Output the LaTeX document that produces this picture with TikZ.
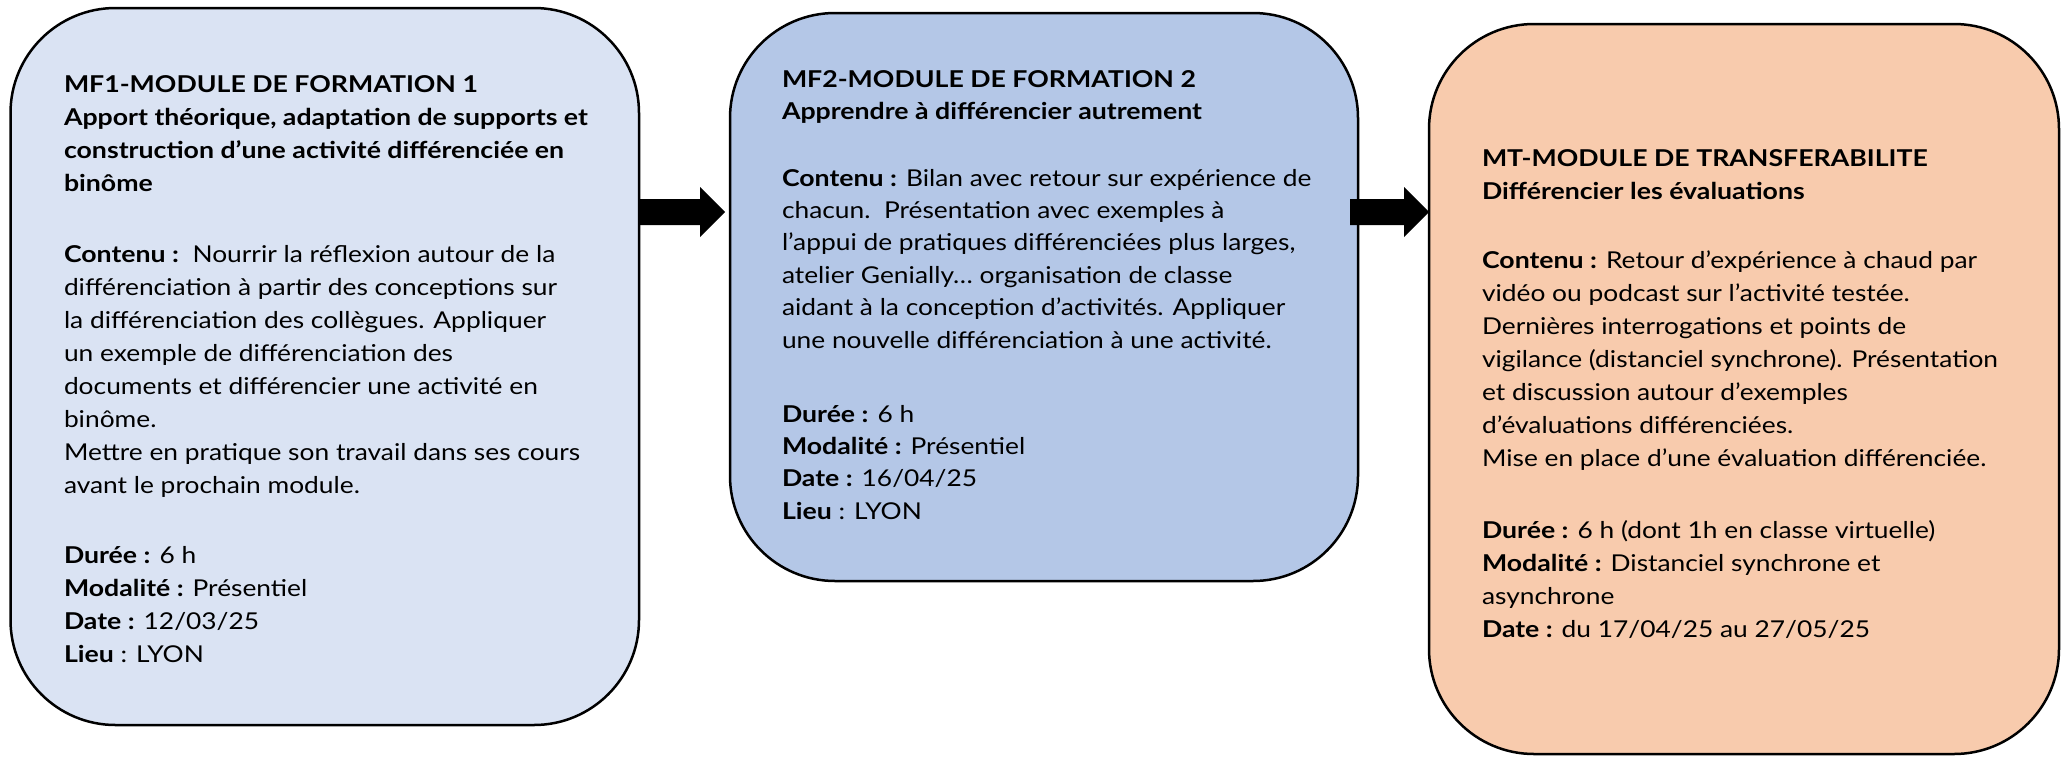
\documentclass[tikz,border=0pt]{standalone}
\usepackage{fontspec}
\setmainfont{Lato}[FakeStretch=1.135, BoldFeatures={FakeStretch=1.15}]
\usetikzlibrary{calc}
\definecolor{boxA}{HTML}{DAE3F3}
\definecolor{boxB}{HTML}{B4C7E7}
\definecolor{boxC}{HTML}{F8CBAD}
\newcommand{\mylines}[1]{\begin{tabular}[t]{@{}l@{}}#1\end{tabular}}
\tikzset{
  modbox/.style={draw=black, line width=2.5pt, rounded corners=105pt, inner sep=0pt, outer sep=0pt},
  txt/.style={anchor=base west, inner sep=0pt, outer sep=0pt, text=black, font=\fontsize{23.2pt}{33pt}\selectfont},
  txtB/.style={txt, font=\fontsize{23.2pt}{33pt}\selectfont\bfseries},
  txtc/.style={anchor=base west, inner sep=0pt, outer sep=0pt, text=black, font=\fontsize{23.2pt}{32.4pt}\selectfont},
  txtcB/.style={txtc, font=\fontsize{23.2pt}{32.4pt}\selectfont\bfseries},
  blockarrow/.style={fill=black},
}
\begin{document}
\begin{tikzpicture}[x=1pt, y=-1pt]
\useasboundingbox[fill=white] (0,0) rectangle (2067,756);

% boxes
\node[modbox, fill=boxA, minimum width=628.5pt, minimum height=717pt] (b1) at (324.75,366.5) {};
\node[modbox, fill=boxB, minimum width=628pt, minimum height=568pt] (b2) at (1044,297) {};
\node[modbox, fill=boxC, minimum width=630pt, minimum height=730pt] (b3) at (1744,389) {};

% box 1 text
\node[txtB] (t1a) at (64,92) {\mylines{MF1-MODULE DE FORMATION 1\\
Apport théorique, adaptation de supports et\\
construction d’une activité différenciée en\\
binôme}};
\node[txt] (t1b) at (64,262) {\mylines{\textbf{Contenu :}\ \ Nourrir la réflexion autour de la\\
différenciation à partir des conceptions sur\\
la différenciation des collègues. Appliquer\\
un exemple de différenciation des\\
documents et différencier une activité en\\
binôme.\\
Mettre en pratique son travail dans ses cours\\
avant le prochain module.}};
\node[txt] (t1c) at (64,563) {\mylines{\textbf{Durée :} 6 h\\
\textbf{Modalité :} Présentiel\\
\textbf{Date :} 12/03/25\\
\textbf{Lieu} : LYON}};

% box 2 text
\node[txtcB] (t2a) at (782,87) {\mylines{MF2-MODULE DE FORMATION 2\\
Apprendre à différencier autrement}};
\node[txtc] (t2b) at (782,186) {\mylines{\textbf{Contenu :} Bilan avec retour sur expérience de\\
chacun.\ \ Présentation avec exemples à\\
l’appui de pratiques différenciées plus larges,\\
atelier Genially… organisation de classe\\
aidant à la conception d’activités. Appliquer\\
une nouvelle différenciation à une activité.}};
\node[txtc] (t2c) at (782,422) {\mylines{\textbf{Durée :} 6 h\\
\textbf{Modalité :} Présentiel\\
\textbf{Date :} 16/04/25\\
\textbf{Lieu} : LYON}};

% box 3 text
\node[txtB] (t3a) at (1482,166) {\mylines{MT-MODULE DE TRANSFERABILITE\\
Différencier les évaluations}};
\node[txt] (t3b) at (1482,268) {\mylines{\textbf{Contenu :} Retour d’expérience à chaud par\\
vidéo ou podcast sur l’activité testée.\\
Dernières interrogations et points de\\
vigilance (distanciel synchrone). Présentation\\
et discussion autour d’exemples\\
d’évaluations différenciées.\\
Mise en place d’une évaluation différenciée.}};
\node[txt] (t3c) at (1482,538) {\mylines{\textbf{Durée :} 6 h (dont 1h en classe virtuelle)\\
\textbf{Modalité :} Distanciel synchrone et\\
asynchrone\\
\textbf{Date :} du 17/04/25 au 27/05/25}};

% block arrows
\coordinate (a1s) at (b1.east |- 0,212);
\coordinate (a1e) at (725,212);
\coordinate (a2s) at (1350,212);
\coordinate (a2e) at (b3.west |- 0,212);
\fill[blockarrow] ($(a1s)+(0,-13)$) -- ($(a1e)+(-25,-13)$) -- ($(a1e)+(-25,-25)$) -- (a1e)
  -- ($(a1e)+(-25,25)$) -- ($(a1e)+(-25,13)$) -- ($(a1s)+(0,13)$) -- cycle;
\fill[blockarrow] ($(a2s)+(0,-13)$) -- ($(a2e)+(-25,-13)$) -- ($(a2e)+(-25,-25)$) -- (a2e)
  -- ($(a2e)+(-25,25)$) -- ($(a2e)+(-25,13)$) -- ($(a2s)+(0,13)$) -- cycle;
\end{tikzpicture}
\end{document}
